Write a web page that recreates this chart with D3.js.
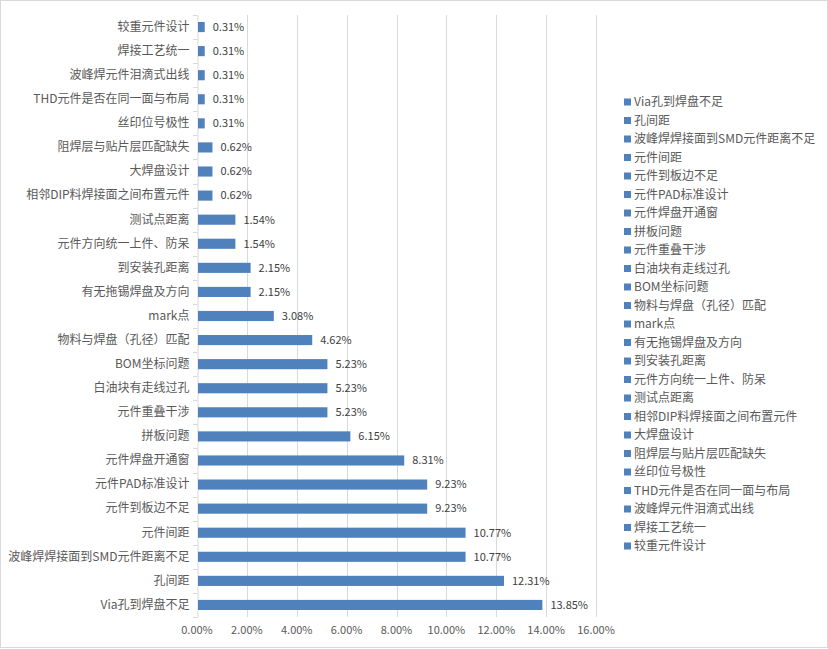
<!DOCTYPE html>
<html><head><meta charset="utf-8">
<script src="https://cdn.jsdelivr.net/npm/d3@7"></script>
<style>body{margin:0;background:#fff;}svg{display:block;font-family:"Noto Sans CJK SC","Noto Sans",sans-serif;}</style>
</head><body>
<script>
// categories from bottom to top (also legend order)
const categories = ["Via孔到焊盘不足","孔间距","波峰焊焊接面到SMD元件距离不足","元件间距","元件到板边不足","元件PAD标准设计","元件焊盘开通窗","拼板问题","元件重叠干涉","白油块有走线过孔","BOM坐标问题","物料与焊盘（孔径）匹配","mark点","有无拖锡焊盘及方向","到安装孔距离","元件方向统一上件、防呆","测试点距离","相邻DIP料焊接面之间布置元件","大焊盘设计","阻焊层与贴片层匹配缺失","丝印位号极性","THD元件是否在同一面与布局","波峰焊元件泪滴式出线","焊接工艺统一","较重元件设计"];
const values = [13.85,12.31,10.77,10.77,9.23,9.23,8.31,6.15,5.23,5.23,5.23,4.62,3.08,2.15,2.15,1.54,1.54,0.62,0.62,0.62,0.31,0.31,0.31,0.31,0.31];
const xTicks = [0,2,4,6,8,10,12,14,16];

const W=828,H=649;
const svg=d3.select("body").append("svg").attr("width",W).attr("height",H);
svg.append("rect").attr("x",0.5).attr("y",0.5).attr("width",W-1).attr("height",H-2)
  .attr("fill","#fff").attr("stroke","#d9d9d9");

const x0=197,x1=596,yTop=15,yBot=617;
const x=d3.scaleLinear().domain([0,16]).range([x0,x1]);
const y=d3.scaleBand().domain(categories.slice().reverse()).range([yTop,yBot]).paddingInner(0.58).paddingOuter(0.29);

// gridlines
svg.append("g").selectAll("line").data(xTicks.slice(1)).join("line")
  .attr("x1",d=>Math.round(x(d))+0.5).attr("x2",d=>Math.round(x(d))+0.5)
  .attr("y1",yTop).attr("y2",yBot).attr("stroke","#d9d9d9").attr("stroke-width",1);

// x tick labels
svg.append("g").selectAll("text").data(xTicks).join("text")
  .attr("x",d=>x(d)).attr("y",634).attr("text-anchor","middle")
  .attr("font-size",11).attr("fill","#595959").text(d=>d.toFixed(2)+"%");

// y axis
const yAxis=d3.axisLeft(y).tickSize(0).tickPadding(8);
const ga=svg.append("g").attr("transform",`translate(${x0+0.5},0)`).call(yAxis);
ga.select(".domain").attr("stroke","#d9d9d9");
ga.selectAll("text").attr("font-size",12).attr("fill","#595959").attr("font-family",'"Noto Sans CJK SC",sans-serif');
// category separator ticks
const seps=d3.range(categories.length+1).map(i=>yTop+i*(yBot-yTop)/categories.length);
svg.append("g").selectAll("line").data(seps).join("line")
  .attr("x1",x0-4).attr("x2",x0+0.5).attr("y1",d=>Math.round(d)+0.5).attr("y2",d=>Math.round(d)+0.5)
  .attr("stroke","#d9d9d9");

// bars
svg.append("g").selectAll("rect").data(categories).join("rect")
  .attr("x",x0+1).attr("y",d=>y(d)).attr("height",y.bandwidth())
  .attr("width",(d,i)=>x(values[i])-x0-1).attr("fill","#4f81bd");

// data labels
svg.append("g").selectAll("text").data(categories).join("text")
  .attr("x",(d,i)=>x(values[i])+8).attr("y",d=>y(d)+y.bandwidth()/2).attr("dy","0.35em")
  .attr("font-size",11).attr("fill","#404040").text((d,i)=>values[i].toFixed(2)+"%");

// legend
const lg=svg.append("g");
const ly0=102,ly1=546;
const ls=(ly1-ly0)/(categories.length-1);
categories.forEach((c,i)=>{
  const cy=ly0+i*ls;
  lg.append("rect").attr("x",624).attr("y",cy-3.5).attr("width",7).attr("height",7).attr("fill","#4f81bd");
  lg.append("text").attr("x",634).attr("y",cy).attr("dy","0.35em").attr("font-size",12).attr("fill","#595959").text(c);
});
</script>
</body></html>
